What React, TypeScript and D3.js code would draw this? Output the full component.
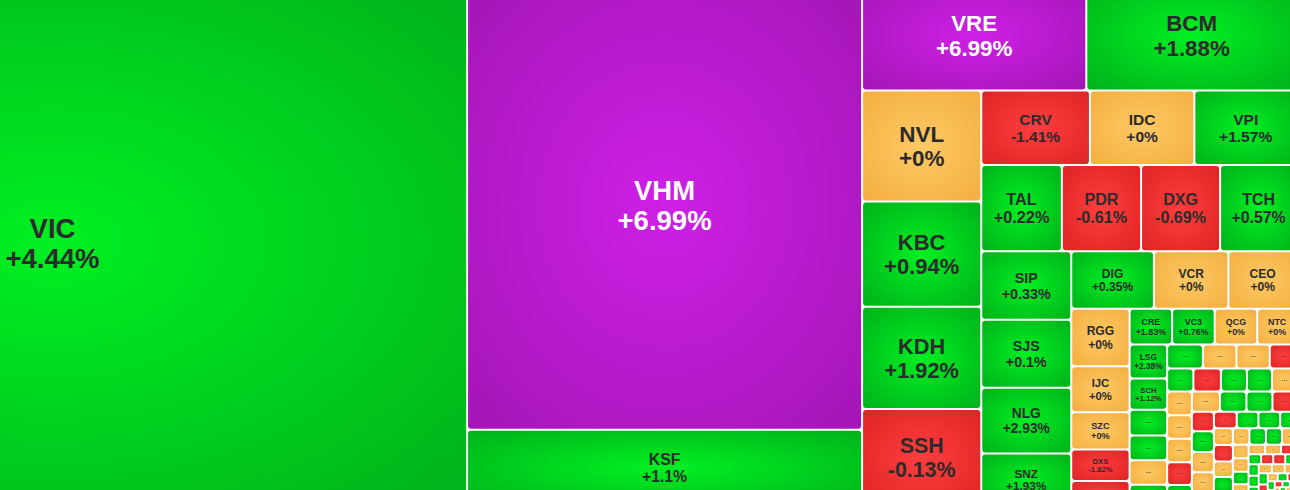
import * as d3 from 'd3';
import React from 'react';

// real estate sector heatmap, cropped view of a bigger treemap
const tickers = [
  'VIC',
  'VHM', 'KSF',
  'VRE', 'BCM',
  'NVL', 'KBC', 'KDH', 'SSH',
  'CRV', 'IDC', 'VPI',
  'TAL', 'PDR', 'DXG', 'TCH',
  'SIP', 'SJS', 'NLG', 'SNZ',
  'DIG', 'VCR', 'CEO',
  'RGG', 'IJC', 'SZC', 'DXS', 'HDG',
  'CRE', 'VC3', 'QCG', 'NTC',
  'LSG', 'SCH', 'HDC', 'NTL', 'ITC', 'HQC',
  'TIP', 'D2D', 'LHG', 'HAR',
  'SGR', 'NBB', 'DRH', 'PTL', 'TDC',
  'KHG', 'SCR', 'TDH', 'HPX', 'FIR',
  'CCL', 'NVT', 'TEG', 'LDG',
  'CKG', 'VPH', 'DTA', 'API', 'PPI',
  'IDJ', 'VRC', 'OGC', 'HTN',
  'PVL', 'NHA', 'L14', 'DIH', 'TIX',
  'HLD', 'PXA', 'ICG', 'LGL',
  'NDN', 'SJC', 'V21', 'BII', 'PV2',
  'HU1', 'HU3', 'CIG',
  'KDM', 'VNI', 'PDC', 'DLR',
  'BVL', 'TNM', 'HD2', 'LIG',
  'VHD', 'QNC', 'SDU',
  'CSC', 'IDV', 'PWA',
  'VC7', 'LCG', 'HUT',
  'DTD', 'KLF', 'VSI',
  'SII', 'TDP', 'SZL',
  'CLG', 'BAX', 'THD',
  'NED', 'CTX', 'VIH',
  'HPI', 'NTB',
  'SAH', 'TKC',
  'PEQ', 'VE9', 'D11', 'CEE'
];

const changes = [
  4.44,
  6.99, 1.1,
  6.99, 1.88,
  0, 0.94, 1.92, -0.13,
  -1.41, 0, 1.57,
  0.22, -0.61, -0.69, 0.57,
  0.33, 0.1, 2.93, 1.93,
  0.35, 0, 0,
  0, 0, 0, -1.82, -0.85,
  1.83, 0.76, 0, 0,
  2.38, 1.12, 1.2, 0.9, 0, 0.5,
  1.05, 0, 0, -0.72,
  0.8, -1.1, 0.6, 1.4, 0,
  0, 0, 0, -0.9, 2.1,
  0, 1.3, 0.7, -1.6,
  -0.4, 1.8, 0, 0, 0,
  -2.1, 0.9, 1.5, 0.4,
  0, -0.5, 0, 1.2, 0,
  0, 0.8, 1.1, 0,
  0, 0, 0.6, 0, -1.2,
  0, 0, -0.9,
  1.5, -0.8, -1.3, 0.7,
  0.5, 1.2, 0.9, 0,
  0, 0, 0,
  0.6, -0.7, 0,
  0, 0.4, -0.6,
  1.0, 0, 0,
  -1.0, 0.5, 0,
  0, 0.3, -0.4,
  0.6, 0, -0.5,
  0, 0.9,
  -0.8, 0,
  0.3, 0, -0.4, 0
];

const caps = [
  433872,
  176736, 29982,
  24640, 23155,
  13173, 12471, 12114, 11507,
  8051, 7739, 7606,
  6931, 6811, 6793, 6612,
  6124, 6080, 5891, 4700,
  4720, 4250, 3918,
  3341, 2676, 2163, 1819, 1458,
  1517, 1517, 1517, 1417,
  1268, 1170, 956, 930, 911, 795,
  850, 797, 793, 647,
  603, 633, 598, 575, 575,
  580, 580, 580, 556, 519,
  566, 535, 525, 495,
  425, 455, 447, 429, 308,
  372, 354, 354, 274,
  316, 314, 295, 285, 262,
  272, 272, 264, 248,
  210, 210, 195, 180, 160,
  155, 150, 150,
  125, 122, 120, 118,
  115, 110, 100, 95,
  118, 115, 111,
  100, 98, 95,
  80, 78, 76,
  60, 57, 55,
  46, 44, 43,
  32, 31, 30,
  30, 28, 28,
  31, 30,
  26, 25,
  32, 31, 30, 29
];

// how many stocks go in each strip of the layout
const rowSizes = [1, 2, 2, 4, 3, 4, 4, 3, 5, 4, 6, 4, 5, 5, 4, 5, 4, 5, 4, 5, 3, 4, 4, 3, 3, 3, 3, 3, 3, 3, 2, 2, 4];

const W = 1657;
const H = 524;
const OFFSET_X = 361;
const OFFSET_Y = 19;

function buildTree() {
  const rows: any[] = [];
  let i = 0;
  rowSizes.forEach((n, r) => {
    const kids = tickers.slice(i, i + n).map((t, k) => ({ name: t, change: changes[i + k], value: caps[i + k] }));
    rows.push({ name: 'row' + r, children: kids });
    i += n;
  });
  let node = rows[rows.length - 1];
  for (let r = rows.length - 2; r >= 0; r--) {
    node = { name: 'split' + r, children: [rows[r], node] };
  }
  return node;
}

// strips always run along the longer side of the box
function tile(node: any, x0: number, y0: number, x1: number, y1: number) {
  if (x1 - x0 >= y1 - y0) d3.treemapDice(node, x0, y0, x1, y1);
  else d3.treemapSlice(node, x0, y0, x1, y1);
}

const root = d3.hierarchy<any>(buildTree()).sum((d: any) => d.value || 0);
d3.treemap<any>().size([W, H]).paddingInner(2).tile(tile)(root);
const leaves = root.leaves() as any[];

const fontScale = d3
  .scaleLinear()
  .domain([27, 36, 45, 55, 72, 80, 90, 110, 300])
  .range([7, 9.5, 11.5, 12, 15.5, 16.5, 21, 22.5, 27.5])
  .clamp(true);

function colorKey(c: number) {
  if (c >= 6.9) return 'ceil';
  if (c > 0) return 'up';
  if (c < 0) return 'down';
  return 'flat';
}

const gradients = [
  { id: 'up', inner: '#00f022', outer: '#00b01a' },
  { id: 'down', inner: '#ff3e3e', outer: '#dc2323' },
  { id: 'flat', inner: '#fec965', outer: '#f4ae3f' },
  { id: 'ceil', inner: '#ce20e6', outer: '#a315b5' }
];

function fmt(c: number) {
  return (c >= 0 ? '+' : '') + c + '%';
}

export default function App() {
  return (
    <div style={{ position: 'fixed', left: 0, top: 0, width: 1290, height: 490, overflow: 'hidden', background: '#fff' }}>
      <svg width={1290} height={490} style={{ display: 'block' }}>
        <defs>
          {gradients.map((g) => (
            <radialGradient key={g.id} id={'grad-' + g.id} cx="0.5" cy="0.5" r="0.72">
              <stop offset="0" stopColor={g.inner} />
              <stop offset="1" stopColor={g.outer} />
            </radialGradient>
          ))}
        </defs>
        <g transform={`translate(${-OFFSET_X},${-OFFSET_Y})`} fontFamily="'Liberation Sans', Arial, sans-serif" fontWeight="bold">
          {leaves.map((d, i) => {
            const w = d.x1 - d.x0;
            const h = d.y1 - d.y0;
            if (w <= 0 || h <= 0) return null;
            const key = colorKey(d.data.change);
            const cx = (d.x0 + d.x1) / 2;
            const cy = (d.y0 + d.y1) / 2;
            const m = Math.min(w, h);
            const txtColor = key === 'ceil' ? '#fff' : '#2b2b2b';
            let label = null;
            if (m >= 27) {
              const fs = fontScale(m);
              const b1 = cy - 0.19 * fs;
              label = (
                <text textAnchor="middle" fill={txtColor} fontSize={fs}>
                  <tspan x={cx} y={b1}>{d.data.name}</tspan>
                  <tspan x={cx} y={b1 + 1.1 * fs}>{fmt(d.data.change)}</tspan>
                </text>
              );
            } else if (w >= 10 && h >= 7) {
              const fs = Math.max(4, Math.min(7, h * 0.35));
              label = (
                <text x={cx} y={cy + 0.1 * fs} textAnchor="middle" fill="#333" fillOpacity={0.8} fontSize={fs}>
                  ...
                </text>
              );
            }
            return (
              <g key={i}>
                <rect x={d.x0} y={d.y0} width={w} height={h} rx={Math.min(3, m / 6)} fill={`url(#grad-${key})`} />
                {label}
              </g>
            );
          })}
        </g>
      </svg>
    </div>
  );
}
